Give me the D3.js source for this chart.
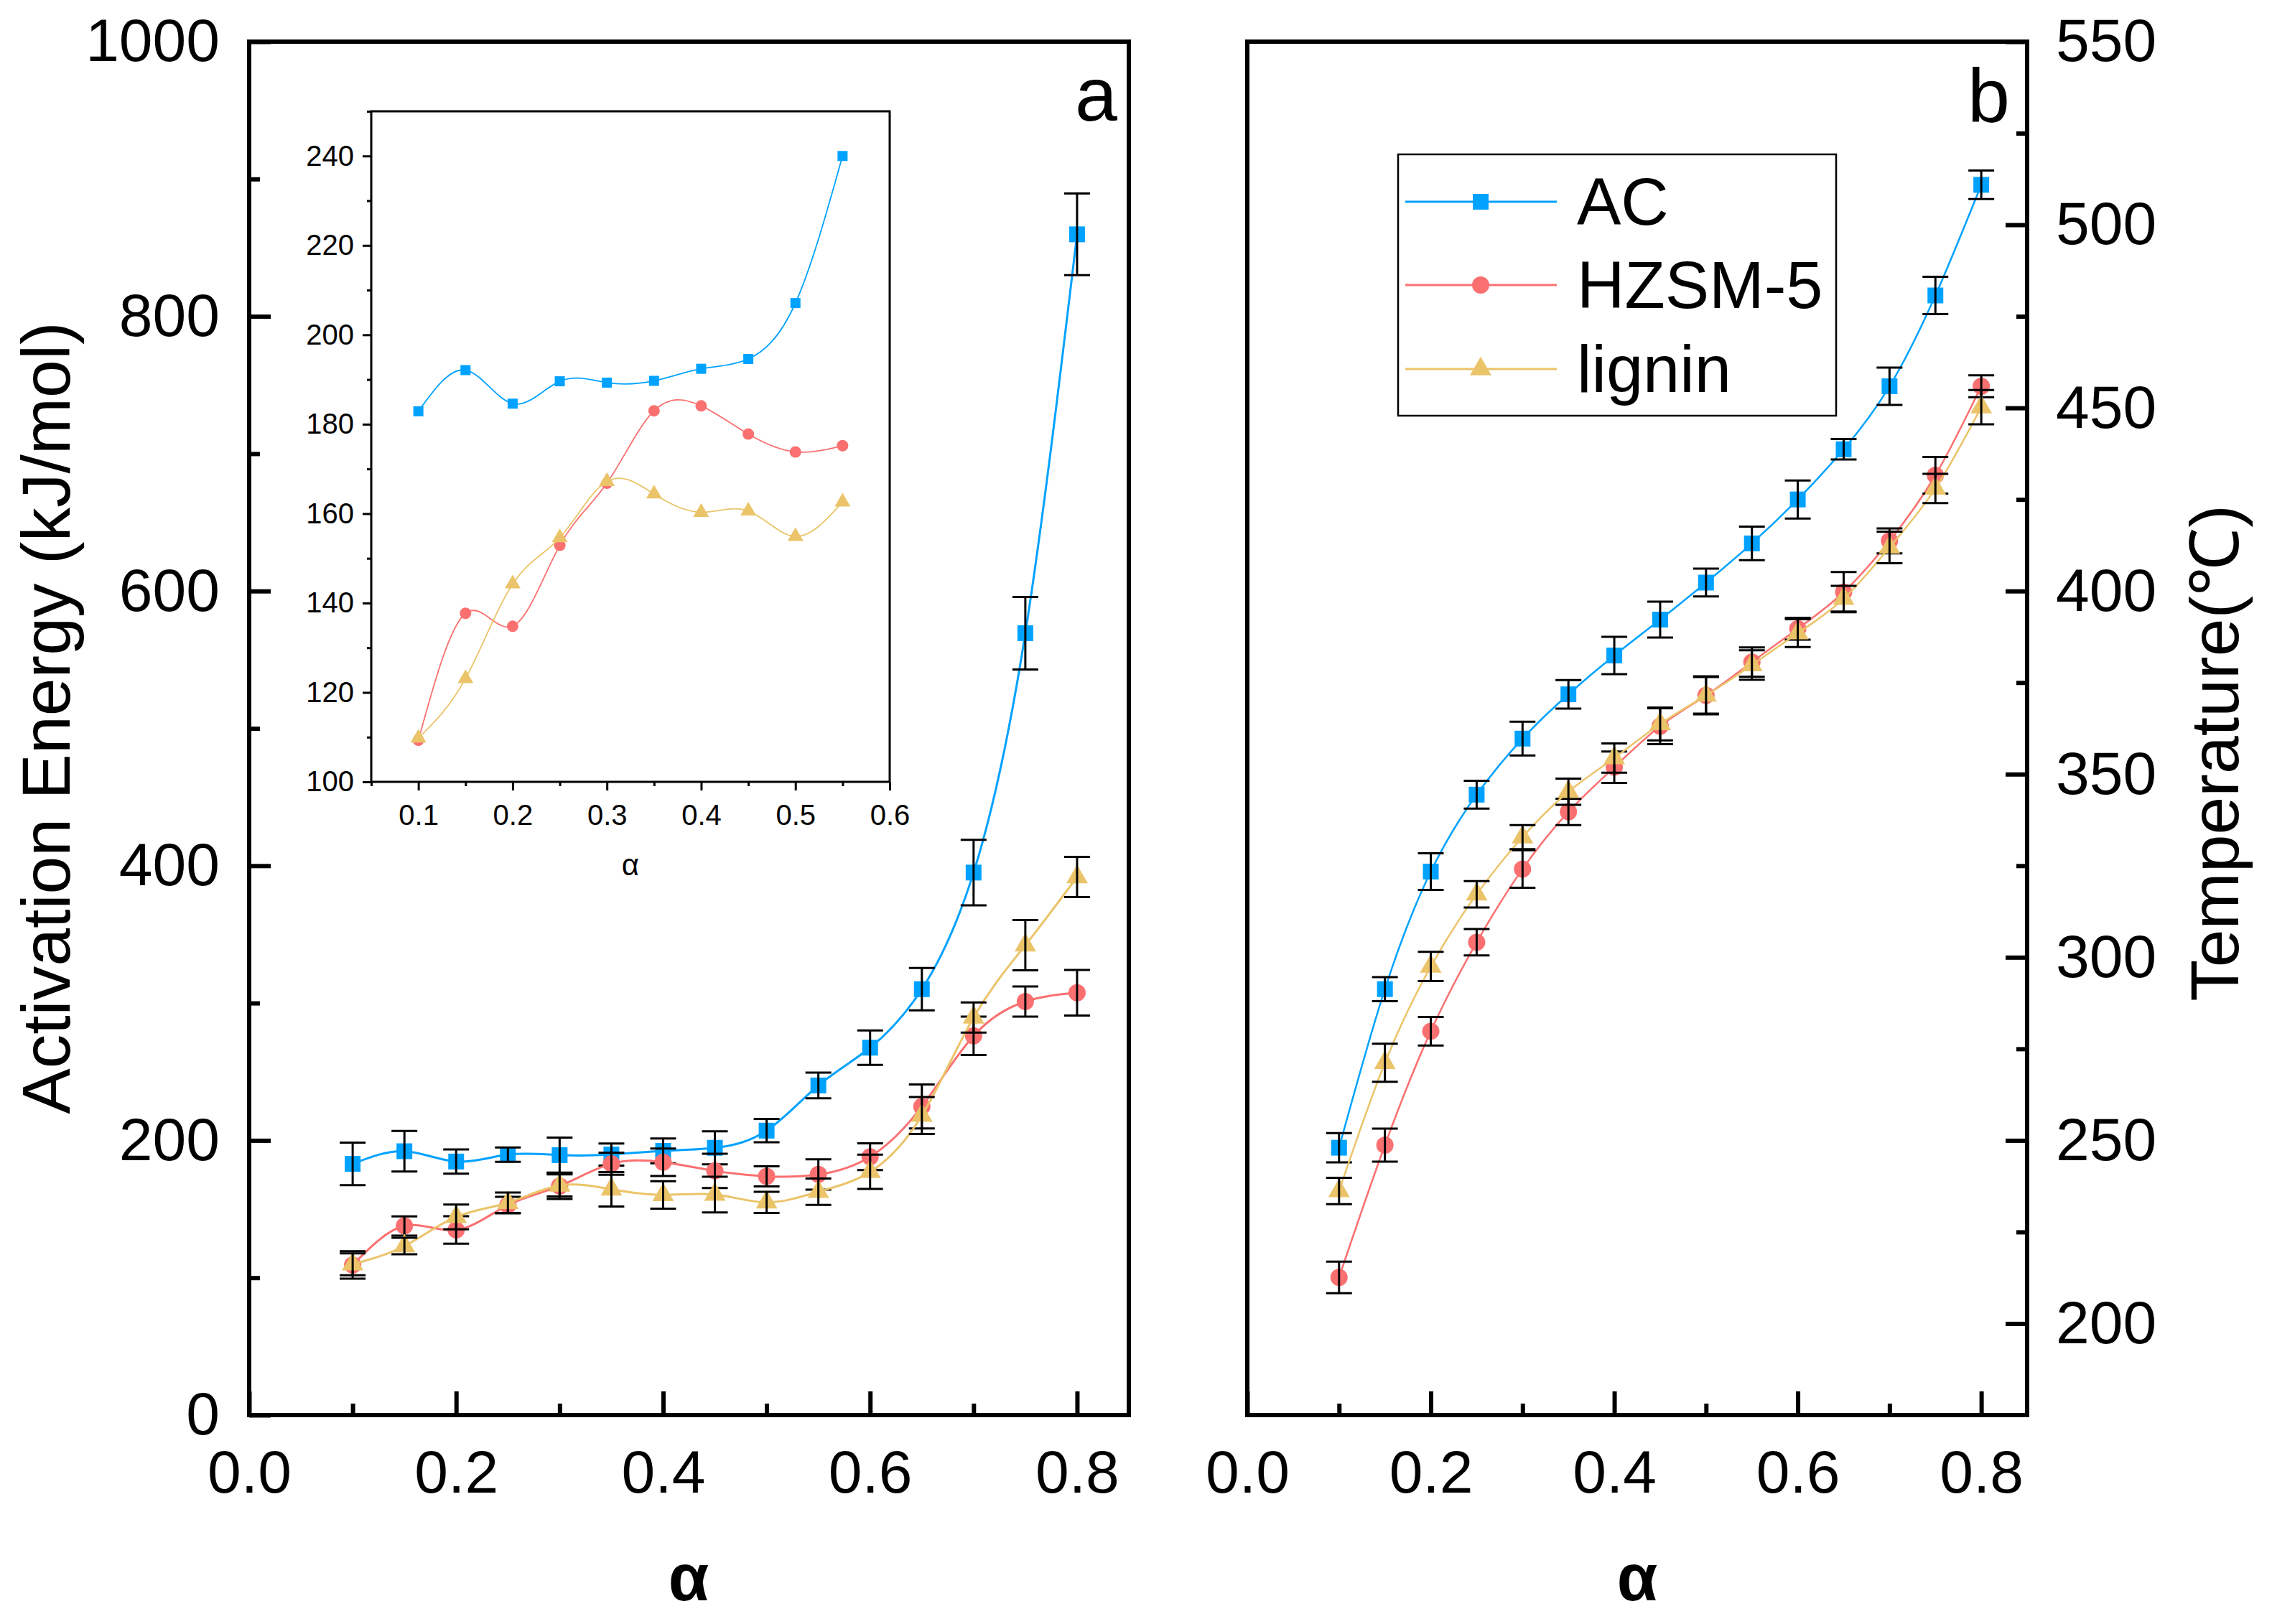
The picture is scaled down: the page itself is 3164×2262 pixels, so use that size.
<!DOCTYPE html>
<html>
<head>
<meta charset="utf-8">
<script src="https://cdn.jsdelivr.net/npm/d3@7/dist/d3.min.js"></script>
<style>
    body { margin: 0; background: #ffffff; }
    text { font-family: Arial, "Liberation Sans", sans-serif; fill: #000; }
</style>
</head>
<body>
<div id="chart"></div>
<script>

/*
DATA
*/
const alpha = [0.1, 0.15, 0.2, 0.25, 0.3, 0.35, 0.4, 0.45, 0.5, 0.55, 0.6, 0.65, 0.7, 0.75, 0.8];

// activation energy (kJ/mol), panel a
const energyAC     = [182.9, 192.1, 184.6, 189.6, 189.3, 189.7, 192.4, 194.6, 207.1, 240.0, 267.5, 310.1, 395.0, 569.3, 859.7];
const energyHZSM   = [109.3, 137.7, 134.8, 152.9, 166.8, 183.0, 184.1, 177.8, 173.8, 175.2, 188.1, 224.7, 276.1, 301.1, 307.5];
const energyLignin = [109.8, 123.1, 144.3, 154.6, 167.2, 164.4, 160.3, 160.6, 154.9, 162.6, 177.1, 218.1, 289.5, 342.1, 391.8];

const energyErrAC     = [15.5, 14.8, 8.8, 5.2, 12.8, 8, 9, 12, 8.5, 9.4, 12.5, 15.4, 23.8, 26.4, 29.7];
const energyErrHZSM   = [10, 7, 10, 6, 9.5, 8, 10, 12.5, 7.3, 11, 9.7, 16, 14, 11, 16.6];
const energyErrLignin = [8, 6, 9, 7.5, 8, 12.5, 10, 13, 7.7, 9.6, 12.5, 13.5, 11, 18.3, 14.6];

// temperature (°C), panel b
const tempAC     = [248.0, 291.3, 323.4, 344.4, 359.7, 371.8, 382.4, 392.2, 402.3, 413.0, 425.0, 438.7, 455.9, 480.7, 510.9];
const tempHZSM   = [212.6, 248.7, 279.8, 304.1, 324.1, 339.7, 351.9, 363.1, 371.5, 380.6, 389.7, 399.7, 413.7, 431.6, 455.9];
const tempLignin = [236.2, 271.2, 297.5, 317.2, 332.8, 345.2, 354.4, 363.7, 371.5, 379.8, 388.5, 397.9, 411.9, 428.0, 450.2];

const tempErrAC     = [4, 3.3, 5, 3.8, 4.6, 3.9, 5.1, 4.9, 3.8, 4.6, 5.2, 2.8, 5.1, 5.1, 3.9];
const tempErrHZSM   = [4.3, 4.5, 3.9, 3.6, 5.1, 3.6, 4.3, 4.9, 5.2, 4, 3, 5.5, 3.4, 5, 3];
const tempErrLignin = [3.6, 5.2, 4, 3.6, 3.3, 3.6, 4, 4.5, 5, 4, 3.8, 3.5, 4.3, 4, 4.7];

// inset only shows alpha <= 0.55
const insetCount = 10;

const seriesNames = ["AC", "HZSM-5", "lignin"];
const seriesColors = ["#00A2FF", "#FA7070", "#EBC46A"];

const xTicksMain = [0, 0.2, 0.4, 0.6, 0.8];
const xMinorMain = [0.1, 0.3, 0.5, 0.7];
const yTicksEnergy = [0, 200, 400, 600, 800, 1000];
const yMinorEnergy = [100, 300, 500, 700, 900];
const yTicksTemp = [200, 250, 300, 350, 400, 450, 500, 550];
const yMinorTemp = [225, 275, 325, 375, 425, 475, 525];
const xTicksInset = [0.1, 0.2, 0.3, 0.4, 0.5, 0.6];
const xMinorInset = [0.05, 0.15, 0.25, 0.35, 0.45, 0.55];
const yTicksInset = [100, 120, 140, 160, 180, 200, 220, 240];
const yMinorInset = [110, 130, 150, 170, 190, 210, 230, 250];


/*
SVG
*/
const width = 3164;
const height = 2262;

const svg = d3.select("#chart")
    .append("svg")
    .attr("width", width)
    .attr("height", height);

svg.append("rect")
    .attr("width", width)
    .attr("height", height)
    .attr("fill", "#ffffff");

/*
SCALES
*/
const xA = d3.scaleLinear().domain([0, 0.85]).range([347, 1572]);
const yA = d3.scaleLinear().domain([0, 1000]).range([1971, 58]);

const xB = d3.scaleLinear().domain([0, 0.85]).range([1737, 2823]);
const yB = d3.scaleLinear().domain([175, 550]).range([1971, 58]);

const xI = d3.scaleLinear().domain([0.05, 0.6]).range([517, 1239]);
const yI = d3.scaleLinear().domain([100, 250]).range([1089, 155]);

/*
HELPERS
*/
function styleAxis(g, fontSize, strokeW) {
    g.select(".domain").remove();
    g.selectAll(".tick line").attr("stroke", "#000").attr("stroke-width", strokeW);
    g.selectAll(".tick text")
        .attr("fill", "#000")
        .style("font-size", fontSize + "px")
        .style("font-family", "Arial, 'Liberation Sans', sans-serif");
}

function addAxis(axisGen, transform, fontSize, strokeW) {
    const g = svg.append("g")
        .attr("transform", transform)
        .call(axisGen);
    styleAxis(g, fontSize, strokeW);
    return g;
}

function symbolFor(i, s) {
    // s = nominal marker width in px
    if (i === 0) return d3.symbol().type(d3.symbolSquare).size(s * s)();
    if (i === 1) return d3.symbol().type(d3.symbolCircle).size(Math.PI * (s / 2 + 1) * (s / 2 + 1))();
    return d3.symbol().type(d3.symbolTriangle).size(Math.sqrt(3) / 4 * (s + 8) * (s + 8))();
}

function drawSeries(xs, ys, xvals, values, errors, color, idx, opts) {
    const pts = xvals.map(function(a, k) { return {a: a, v: values[k], e: errors ? errors[k] : 0}; });

    const line = d3.line()
        .x(function(d) { return xs(d.a); })
        .y(function(d) { return ys(d.v); })
        .curve(d3.curveNatural);

    svg.append("path")
        .datum(pts)
        .attr("d", line)
        .attr("fill", "none")
        .attr("stroke", color)
        .attr("stroke-width", opts.lineWidth);

    svg.append("g").selectAll("path")
        .data(pts)
        .enter()
        .append("path")
            .attr("d", symbolFor(idx, opts.marker))
            .attr("transform", function(d) { return `translate(${xs(d.a)},${ys(d.v)})`; })
            .attr("fill", color);

    if (errors) {
        const eb = svg.append("g")
            .attr("stroke", "#000")
            .attr("stroke-width", 3);
        pts.forEach(function(d) {
            const x = xs(d.a);
            const y1 = ys(d.v + d.e);
            const y2 = ys(d.v - d.e);
            eb.append("line").attr("x1", x).attr("x2", x).attr("y1", y1).attr("y2", y2);
            eb.append("line").attr("x1", x - 18).attr("x2", x + 18).attr("y1", y1).attr("y2", y1);
            eb.append("line").attr("x1", x - 18).attr("x2", x + 18).attr("y1", y2).attr("y2", y2);
        });
    }
}

/*
PANEL A
*/
addAxis(d3.axisBottom(xA).tickValues(xTicksMain).tickFormat(d3.format(".1f")).tickSizeInner(-33).tickPadding(48),
    "translate(0,1971)", 84, 6);
addAxis(d3.axisBottom(xA).tickValues(xMinorMain).tickFormat("").tickSizeInner(-16),
    "translate(0,1971)", 84, 6);
addAxis(d3.axisLeft(yA).tickValues(yTicksEnergy).tickFormat(d3.format("d")).tickSizeInner(-30).tickPadding(41),
    "translate(347,0)", 84, 6);
addAxis(d3.axisLeft(yA).tickValues(yMinorEnergy).tickFormat("").tickSizeInner(-15),
    "translate(347,0)", 84, 6);

const energySets = [[energyAC, energyErrAC], [energyHZSM, energyErrHZSM], [energyLignin, energyErrLignin]];
energySets.forEach(function(s, i) {
    drawSeries(xA, yA, alpha, s[0], s[1], seriesColors[i], i, {lineWidth: 3, marker: 22});
});

svg.append("rect")
    .attr("x", 347).attr("y", 58)
    .attr("width", 1572 - 347).attr("height", 1971 - 58)
    .attr("fill", "none").attr("stroke", "#000").attr("stroke-width", 6);

svg.append("text")
    .attr("x", 1556).attr("y", 168)
    .attr("text-anchor", "end")
    .style("font-size", "106px")
    .text("a");

svg.append("text")
    .attr("transform", "translate(97,1000) rotate(-90)")
    .attr("text-anchor", "middle")
    .style("font-size", "95px")
    .text("Activation Energy (kJ/mol)");

svg.append("text")
    .attr("x", 959).attr("y", 2229)
    .attr("text-anchor", "middle")
    .style("font-size", "92px")
    .style("font-weight", "bold")
    .text("α");

/*
INSET
*/
svg.append("rect")
    .attr("x", 517).attr("y", 155)
    .attr("width", 1239 - 517).attr("height", 1089 - 155)
    .attr("fill", "#ffffff").attr("stroke", "#000").attr("stroke-width", 3);

addAxis(d3.axisBottom(xI).tickValues(xTicksInset).tickFormat(d3.format(".1f")).tickSizeInner(12).tickPadding(20),
    "translate(0,1089)", 40, 3);
addAxis(d3.axisBottom(xI).tickValues(xMinorInset).tickFormat("").tickSizeInner(6),
    "translate(0,1089)", 40, 3);
addAxis(d3.axisLeft(yI).tickValues(yTicksInset).tickFormat(d3.format("d")).tickSizeInner(12).tickPadding(12),
    "translate(517,0)", 40, 3);
addAxis(d3.axisLeft(yI).tickValues(yMinorInset).tickFormat("").tickSizeInner(6),
    "translate(517,0)", 40, 3);

energySets.forEach(function(s, i) {
    drawSeries(xI, yI, alpha.slice(0, insetCount), s[0].slice(0, insetCount), null,
        seriesColors[i], i, {lineWidth: 1.8, marker: 14});
});

svg.append("text")
    .attr("x", 878).attr("y", 1219)
    .attr("text-anchor", "middle")
    .style("font-size", "42px")
    .text("α");

/*
PANEL B
*/
addAxis(d3.axisBottom(xB).tickValues(xTicksMain).tickFormat(d3.format(".1f")).tickSizeInner(-33).tickPadding(48),
    "translate(0,1971)", 84, 6);
addAxis(d3.axisBottom(xB).tickValues(xMinorMain).tickFormat("").tickSizeInner(-16),
    "translate(0,1971)", 84, 6);
addAxis(d3.axisRight(yB).tickValues(yTicksTemp).tickFormat(d3.format("d")).tickSizeInner(-30).tickPadding(40),
    "translate(2823,0)", 84, 6);
addAxis(d3.axisRight(yB).tickValues(yMinorTemp).tickFormat("").tickSizeInner(-15),
    "translate(2823,0)", 84, 6);

const tempSets = [[tempAC, tempErrAC], [tempHZSM, tempErrHZSM], [tempLignin, tempErrLignin]];
tempSets.forEach(function(s, i) {
    drawSeries(xB, yB, alpha, s[0], s[1], seriesColors[i], i, {lineWidth: 2.5, marker: 22});
});

svg.append("rect")
    .attr("x", 1737).attr("y", 58)
    .attr("width", 2823 - 1737).attr("height", 1971 - 58)
    .attr("fill", "none").attr("stroke", "#000").attr("stroke-width", 6);

svg.append("text")
    .attr("x", 2799).attr("y", 170)
    .attr("text-anchor", "end")
    .style("font-size", "106px")
    .text("b");

svg.append("text")
    .attr("transform", "translate(3117,1049) rotate(-90)")
    .attr("text-anchor", "middle")
    .style("font-size", "95px")
    .text("Temperature(℃)");

svg.append("text")
    .attr("x", 2280).attr("y", 2229)
    .attr("text-anchor", "middle")
    .style("font-size", "92px")
    .style("font-weight", "bold")
    .text("α");

/*
LEGEND
*/
svg.append("rect")
    .attr("x", 1947).attr("y", 215)
    .attr("width", 2557 - 1947).attr("height", 579 - 215)
    .attr("fill", "#ffffff").attr("stroke", "#000").attr("stroke-width", 2.5);

const legendY = [281, 397, 514];
seriesNames.forEach(function(name, i) {
    svg.append("line")
        .attr("x1", 1957).attr("x2", 2168)
        .attr("y1", legendY[i]).attr("y2", legendY[i])
        .attr("stroke", seriesColors[i]).attr("stroke-width", 3);
    svg.append("path")
        .attr("d", symbolFor(i, 22))
        .attr("transform", `translate(2062,${legendY[i]})`)
        .attr("fill", seriesColors[i]);
    svg.append("text")
        .attr("x", 2196).attr("y", legendY[i] + 32)
        .style("font-size", "92px")
        .text(name);
});

</script>
</body>
</html>
